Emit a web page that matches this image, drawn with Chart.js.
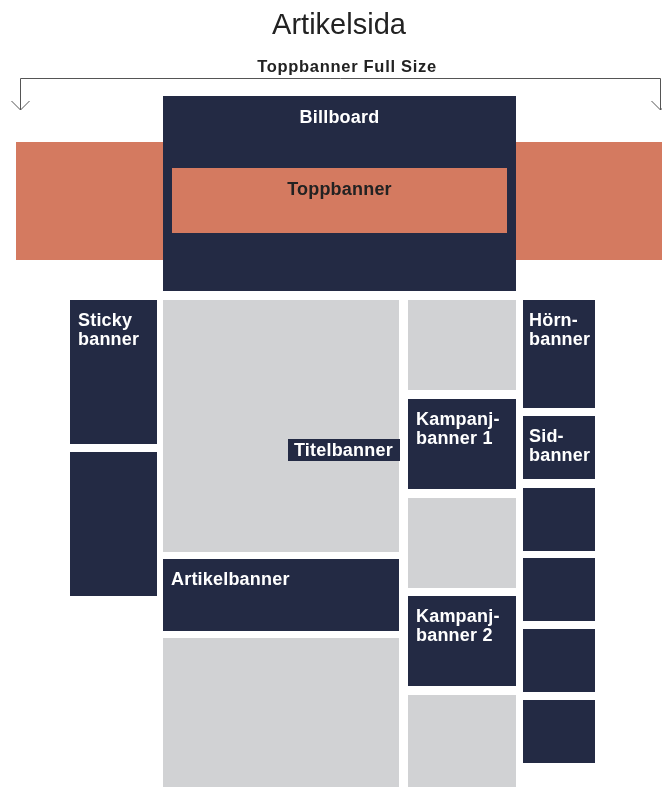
<!DOCTYPE html>
<html>
<head>
<meta charset="utf-8">
<script src="https://cdn.jsdelivr.net/npm/chart.js@4/dist/chart.umd.min.js"></script>
<style>
html,body{margin:0;padding:0;background:#fff;}
#wrap{width:662px;height:787px;position:relative;}
</style>
</head>
<body>
<div id="wrap"><canvas id="c"></canvas></div>
<script>
// Page layout in diagram units (0..662 across, 0..787 down)
const boxNames  = ['Toppbanner Full Size L','Toppbanner Full Size R','Billboard','Toppbanner',
  'Sticky banner','Sticky 2','Innehåll','Artikelbanner','Innehåll 2',
  'Innehåll 3','Kampanjbanner 1','Innehåll 4','Kampanjbanner 2','Innehåll 5',
  'Hörnbanner','Sidbanner','Sid 3','Sid 4','Sid 5','Sid 6','Titelbanner'];
const boxX0 = [16,516,163,172, 70,70,163,163,163, 408,408,408,408,408, 523,523,523,523,523,523, 288];
const boxX1 = [163,662,516,507, 157,157,399,399,399, 516,516,516,516,516, 595,595,595,595,595,595, 400];
const boxY0 = [142,142,96,168, 300,452,300,559,638, 300,399,498,596,695, 300,416,488,558,629,700, 439];
const boxY1 = [260,260,291,233, 444,596,552,631,787, 390,489,588,686,787, 408,479,551,621,692,763, 461];
const boxKind = ['top','top','ad','top', 'ad','ad','content','ad','content', 'content','ad','content','ad','content', 'ad','ad','ad','ad','ad','ad','ad'];
const boxLabel = [[],[],['Billboard'],['Toppbanner'],
  ['Sticky','banner'],[],[],['Artikelbanner'],[],
  [],['Kampanj-','banner 1'],[],['Kampanj-','banner 2'],[],
  ['Hörn-','banner'],['Sid-','banner'],[],[],[],[],['Titelbanner']];
const boxAlign = ['left','left','center','center','left','left','left','left','left','left','left','left','left','left','left','left','left','left','left','left','middle'];
const pageTitle = 'Artikelsida';
const spanLabel = 'Toppbanner Full Size';
const spanX = [20, 660];   // arrow span
const spanY = [78, 110];

const COLORS = {ad:'#232a44', top:'#d47a60', content:'#d1d2d4'};
const TEXTCOL = {ad:'#ffffff', top:'#222222', content:'#222222'};
const FONT = '"Liberation Sans", Arial, Helvetica, sans-serif';

const layoutPlugin = {
  id: 'layoutPlugin',
  afterDatasetsDraw(chart) {
    const ctx = chart.ctx, xs = chart.scales.x, ys = chart.scales.y;
    const X = v => xs.getPixelForValue(v), Y = v => ys.getPixelForValue(v);
    ctx.save();
    // title
    ctx.fillStyle = '#222';
    ctx.textAlign = 'center';
    ctx.textBaseline = 'alphabetic';
    ctx.font = '29px ' + FONT;
    ctx.fillText(pageTitle, X(339), Y(34));
    ctx.font = 'bold 16.5px ' + FONT;
    ctx.letterSpacing = '0.7px';
    ctx.fillText(spanLabel, X(347), Y(72));
    ctx.letterSpacing = '0px';
    // span arrow
    ctx.strokeStyle = '#555';
    ctx.lineWidth = 1;
    ctx.beginPath();
    ctx.moveTo(X(spanX[0]) + 0.5, Y(spanY[1]));
    ctx.lineTo(X(spanX[0]) + 0.5, Y(spanY[0]) + 0.5);
    ctx.lineTo(X(spanX[1]) + 0.5, Y(spanY[0]) + 0.5);
    ctx.lineTo(X(spanX[1]) + 0.5, Y(spanY[1]));
    ctx.stroke();
    [spanX[0], spanX[1]].forEach(ax => {
      ctx.beginPath();
      ctx.moveTo(X(ax - 9) + 0.5, Y(spanY[1] - 9));
      ctx.lineTo(X(ax) + 0.5, Y(spanY[1]));
      ctx.lineTo(X(ax + 9) + 0.5, Y(spanY[1] - 9));
      ctx.stroke();
    });
    // boxes
    for (let i = 0; i < boxNames.length; i++) {
      const x0 = X(boxX0[i]), x1 = X(boxX1[i]);
      const y0 = Y(boxY0[i]), y1 = Y(boxY1[i]);
      ctx.fillStyle = COLORS[boxKind[i]];
      ctx.fillRect(x0, y0, x1 - x0, y1 - y0);
    }
    // labels
    ctx.font = 'bold 18px ' + FONT;
    ctx.letterSpacing = '0.2px';
    for (let i = 0; i < boxNames.length; i++) {
      const lines = boxLabel[i];
      if (!lines.length) continue;
      const x0 = X(boxX0[i]), x1 = X(boxX1[i]);
      const y0 = Y(boxY0[i]), y1 = Y(boxY1[i]);
      const pad = (x1 - x0) < 80 ? 6 : 8;
      ctx.fillStyle = TEXTCOL[boxKind[i]];
      lines.forEach((t, k) => {
        if (boxAlign[i] === 'center') {
          ctx.textAlign = 'center';
          ctx.fillText(t, (x0 + x1) / 2, y0 + 27 + k * 19);
        } else if (boxAlign[i] === 'middle') {
          ctx.textAlign = 'left';
          ctx.fillText(t, x0 + 6, (y0 + y1) / 2 + 6);
        } else {
          ctx.textAlign = 'left';
          ctx.fillText(t, x0 + pad, y0 + 26 + k * 19);
        }
      });
    }
    ctx.restore();
  }
};

new Chart(document.getElementById('c'), {
  type: 'scatter',
  data: { datasets: [{ label: 'layout', data: boxNames.map((n, i) => ({x: (boxX0[i] + boxX1[i]) / 2, y: (boxY0[i] + boxY1[i]) / 2})), pointRadius: 0 }] },
  options: {
    responsive: true,
    maintainAspectRatio: false,
    animation: false,
    layout: { padding: 0 },
    plugins: { legend: { display: false }, tooltip: { enabled: false }, title: { display: false } },
    scales: {
      x: { type: 'linear', min: 0, max: 662, display: false },
      y: { type: 'linear', min: 0, max: 787, reverse: true, display: false }
    }
  },
  plugins: [layoutPlugin]
});
</script>
</body>
</html>
